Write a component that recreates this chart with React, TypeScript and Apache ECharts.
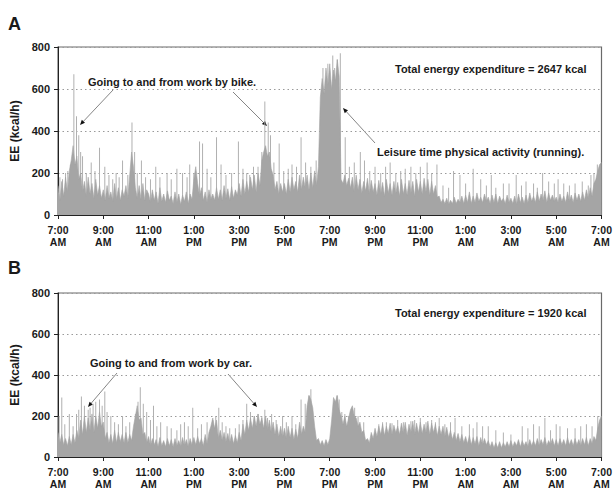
import React, { useEffect, useRef } from "react";
import * as echarts from "echarts";

// Tick labels of the time axis (minutes from 7:00 AM, every 2 h)
const xTickLabels = [
  "7:00\nAM", "9:00\nAM", "11:00\nAM", "1:00\nPM", "3:00\nPM", "5:00\nPM",
  "7:00\nPM", "9:00\nPM", "11:00\nPM", "1:00\nAM", "3:00\nAM", "5:00\nAM", "7:00\nAM",
];
const stepMinutes = 5;

// Panel A: base EE (kcal/h), one row per hour starting 7:00 AM, 5-min samples
const baseA: number[][] = [
  [140, 70, 160, 90, 180, 110, 210, 260, 330, 240, 280, 170],
  [200, 110, 160, 90, 180, 100, 150, 80, 170, 95, 140, 80],
  [120, 70, 140, 80, 110, 65, 150, 75, 130, 70, 120, 90],
  [140, 80, 190, 300, 230, 130, 80, 140, 75, 150, 70, 120],
  [100, 60, 120, 70, 110, 55, 130, 65, 100, 60, 115, 70],
  [90, 55, 110, 60, 100, 50, 95, 65, 110, 55, 100, 75],
  [170, 230, 150, 90, 130, 70, 110, 60, 120, 75, 100, 70],
  [130, 75, 120, 70, 140, 80, 125, 70, 135, 80, 120, 95],
  [150, 90, 170, 100, 160, 110, 180, 120, 190, 110, 200, 140],
  [260, 300, 330, 280, 300, 220, 190, 120, 160, 100, 150, 110],
  [150, 100, 170, 110, 180, 120, 160, 110, 190, 120, 180, 130],
  [190, 120, 200, 130, 210, 140, 230, 560, 650, 580, 700, 620],
  [720, 600, 690, 640, 740, 660, 170, 150, 190, 140, 175, 130],
  [180, 110, 190, 120, 170, 105, 160, 115, 175, 100, 165, 110],
  [150, 95, 165, 100, 155, 90, 170, 105, 150, 95, 160, 100],
  [155, 90, 170, 100, 150, 95, 165, 105, 160, 90, 170, 110],
  [160, 100, 175, 110, 170, 95, 160, 100, 140, 85, 90, 60],
  [75, 55, 80, 50, 70, 55, 85, 55, 75, 60, 90, 55],
  [95, 60, 110, 55, 90, 60, 105, 65, 85, 60, 100, 65],
  [85, 55, 95, 60, 100, 55, 90, 65, 80, 55, 95, 60],
  [80, 55, 90, 50, 100, 60, 85, 55, 95, 60, 105, 65],
  [90, 60, 110, 65, 100, 70, 115, 60, 105, 70, 95, 65],
  [85, 60, 100, 65, 90, 60, 110, 65, 95, 60, 105, 70],
  [100, 65, 110, 70, 120, 80, 130, 90, 150, 170, 210, 240],
  [250],
];

// Panel A: short peaks [minute from 7:00 AM, EE]
const spikesA: number[][] = [
  [20, 200], [26, 210], [42, 670], [49, 470], [55, 380], [65, 280], [88, 250], [110, 320],
  [124, 230], [154, 200], [171, 260], [196, 440], [203, 300], [221, 260], [259, 230],
  [289, 200], [315, 220], [330, 200], [349, 240], [375, 350], [383, 340], [395, 220],
  [420, 370], [432, 240], [478, 350], [500, 200], [518, 230], [548, 540], [557, 440],
  [563, 380], [586, 340], [620, 240], [644, 370], [670, 230], [702, 700], [715, 720],
  [728, 760], [733, 700], [740, 740], [748, 770], [761, 370], [801, 300], [812, 260],
  [840, 230], [880, 250], [920, 220], [960, 230], [978, 250], [1004, 240], [1048, 210],
  [1065, 190], [1100, 220], [1120, 170], [1148, 190], [1180, 150], [1214, 190],
  [1240, 160], [1284, 200], [1300, 160], [1340, 150], [1389, 160], [1420, 200], [1429, 240],
  [5, 180], [12, 170], [33, 240], [60, 300], [75, 200], [98, 210], [135, 190], [145, 170],
  [162, 180], [185, 190], [210, 200], [232, 180], [245, 170], [270, 180], [300, 170],
  [342, 180], [360, 200], [405, 180], [445, 190], [460, 200], [490, 220], [508, 190],
  [530, 230], [540, 300], [572, 250], [598, 210], [610, 220], [632, 230], [656, 250],
  [684, 260], [772, 230], [785, 250], [826, 210], [855, 200], [868, 230], [895, 200],
  [908, 210], [935, 230], [948, 200], [990, 200], [1020, 140], [1035, 130], [1080, 150],
  [1135, 140], [1160, 130], [1195, 150], [1228, 140], [1260, 150], [1270, 130], [1315, 150],
  [1325, 170], [1355, 140], [1370, 150], [1405, 140], [1412, 190],
];

// Panel B: base EE (kcal/h), one row per hour starting 7:00 AM, 5-min samples
const baseB: number[][] = [
  [120, 70, 110, 60, 90, 55, 100, 60, 110, 70, 130, 90],
  [180, 110, 200, 120, 190, 130, 210, 120, 200, 140, 220, 150],
  [170, 90, 120, 70, 110, 65, 130, 70, 120, 75, 110, 70],
  [120, 70, 110, 80, 150, 200, 250, 180, 190, 110, 120, 70],
  [100, 55, 90, 60, 85, 50, 95, 55, 80, 50, 90, 55],
  [85, 50, 90, 55, 80, 50, 95, 55, 85, 50, 90, 60],
  [95, 60, 100, 65, 90, 55, 110, 65, 120, 150, 190, 140],
  [180, 90, 130, 80, 120, 75, 115, 70, 110, 65, 105, 70],
  [120, 80, 160, 110, 180, 130, 190, 140, 200, 150, 210, 160],
  [190, 140, 200, 130, 180, 120, 170, 110, 160, 100, 150, 95],
  [140, 90, 150, 95, 140, 85, 135, 90, 170, 110, 150, 120],
  [250, 300, 280, 240, 150, 80, 90, 60, 80, 55, 85, 60],
  [90, 180, 290, 270, 300, 230, 200, 160, 200, 150, 190, 230],
  [250, 200, 190, 150, 170, 120, 130, 80, 90, 70, 120, 90],
  [140, 100, 150, 110, 160, 105, 150, 115, 165, 110, 155, 120],
  [150, 110, 165, 115, 170, 105, 160, 120, 175, 110, 165, 115],
  [170, 115, 160, 120, 175, 110, 165, 120, 160, 105, 150, 110],
  [150, 100, 145, 95, 130, 85, 120, 80, 115, 75, 110, 70],
  [100, 65, 105, 60, 95, 65, 100, 55, 95, 60, 90, 60],
  [80, 50, 75, 45, 70, 45, 75, 45, 70, 50, 75, 50],
  [80, 50, 75, 55, 85, 50, 80, 55, 75, 50, 85, 55],
  [80, 55, 90, 55, 85, 60, 95, 55, 80, 60, 90, 55],
  [85, 55, 90, 60, 85, 55, 95, 60, 85, 55, 90, 60],
  [85, 55, 90, 60, 95, 55, 90, 65, 100, 80, 140, 180],
  [200],
];

// Panel B: short peaks [minute from 7:00 AM, EE]
const spikesB: number[][] = [
  [10, 290], [30, 210], [49, 210], [62, 295], [70, 250], [80, 230], [93, 260], [110, 280],
  [124, 320], [140, 200], [150, 170], [171, 200], [190, 170], [218, 340], [226, 260],
  [235, 220], [253, 250], [272, 170], [289, 150], [325, 160], [335, 170], [357, 240],
  [380, 160], [410, 180], [426, 240], [445, 150], [480, 160], [500, 260], [520, 200],
  [548, 230], [566, 210], [595, 200], [620, 200], [644, 280], [670, 330], [739, 300],
  [760, 210], [786, 240], [870, 170], [900, 180], [935, 175], [960, 190], [990, 180],
  [1010, 190], [1052, 190], [1090, 160], [1110, 170], [1140, 150], [1230, 150],
  [1260, 160], [1290, 190], [1330, 150], [1370, 140], [1400, 160], [1430, 200],
  [3, 200], [18, 160], [40, 150], [55, 230], [85, 240], [100, 270], [117, 250], [130, 220],
  [160, 160], [180, 150], [205, 210], [212, 270], [245, 180], [262, 150], [300, 140],
  [315, 130], [345, 150], [370, 140], [395, 170], [418, 200], [435, 170], [455, 140],
  [470, 140], [490, 180], [510, 220], [530, 210], [540, 200], [555, 190], [578, 180],
  [605, 170], [630, 160], [655, 260], [665, 300], [733, 270], [745, 280], [752, 220],
  [770, 200], [795, 200], [810, 170], [850, 160], [860, 170], [885, 165], [915, 170],
  [945, 180], [975, 170], [1000, 170], [1025, 160], [1040, 170], [1070, 150], [1100, 140],
  [1125, 150], [1160, 130], [1180, 120], [1200, 110], [1245, 140], [1275, 150], [1305, 130],
  [1320, 160], [1350, 140], [1385, 150], [1415, 150],
];

const FONT = "'Liberation Sans', Arial, sans-serif";
const AREA = "#a5a5a5";
const SPIKE = "#b0b0b0";

function toPairs(rows: number[][]): number[][] {
  const flat = rows.flat();
  return flat.map((v, i) => [i * stepMinutes, v]);
}

function arrow(x1: number, y1: number, x2: number, y2: number): any[] {
  const ang = Math.atan2(y2 - y1, x2 - x1);
  const L = 5, W = 2.2;
  const bx = x2 - L * Math.cos(ang), by = y2 - L * Math.sin(ang);
  const px = -Math.sin(ang) * W, py = Math.cos(ang) * W;
  return [
    { type: "line", shape: { x1, y1, x2: bx, y2: by }, style: { stroke: "#777", lineWidth: 0.9 }, silent: true },
    {
      type: "polygon",
      shape: { points: [[x2, y2], [bx + px, by + py], [bx - px, by - py]] },
      style: { fill: "#111" },
      silent: true,
    },
  ];
}

function label(text: string, x: number, y: number, size = 11): any {
  return {
    type: "text",
    x,
    y,
    style: {
      text,
      fill: "#1a1a1a",
      font: `bold ${size}px ${FONT}`,
      textVerticalAlign: "middle",
      verticalAlign: "middle",
    },
    silent: true,
  };
}

export default function App() {
  const ref = useRef<HTMLDivElement>(null);

  useEffect(() => {
    if (!ref.current) return;
    const chart = echarts.init(ref.current, undefined, { renderer: "svg" });

    const grids = [
      { left: 58, top: 47, width: 548, height: 168 },
      { left: 58, top: 293, width: 548, height: 164 },
    ];

    const xAxis = grids.map((_, i) => ({
      type: "value",
      gridIndex: i,
      min: 0,
      max: 1440,
      interval: 120,
      axisLine: { show: true, onZero: false, lineStyle: { color: "#222", width: 1 } },
      axisTick: { show: true, length: 4, lineStyle: { color: "#222" } },
      axisLabel: {
        formatter: (v: number) => xTickLabels[Math.round(v / 120)] ?? "",
        fontFamily: FONT,
        fontWeight: "bold",
        fontSize: 10.5,
        lineHeight: 12,
        color: "#1a1a1a",
        margin: 9,
      },
      splitLine: { show: false },
    }));

    const yAxis = grids.map((_, i) => ({
      type: "value",
      gridIndex: i,
      min: 0,
      max: 800,
      interval: 200,
      name: "EE (kcal/h)",
      nameLocation: "middle",
      nameGap: 35,
      nameTextStyle: { fontFamily: FONT, fontWeight: "bold", fontSize: 12, color: "#1a1a1a" },
      axisLine: { show: true, lineStyle: { color: "#222", width: 1 } },
      axisTick: { show: true, length: 4, lineStyle: { color: "#222" } },
      axisLabel: { fontFamily: FONT, fontWeight: "bold", fontSize: 11, color: "#1a1a1a", margin: 8 },
      splitLine: { show: true, lineStyle: { color: "#9a9a9a", type: [1.5, 3], width: 1 } },
    }));

    const areaSeries = (data: number[][], i: number) => ({
      type: "line",
      xAxisIndex: i,
      yAxisIndex: i,
      data,
      symbol: "none",
      smooth: false,
      lineStyle: { color: AREA, width: 0.6 },
      areaStyle: { color: AREA, opacity: 1 },
      z: 2,
    });
    const spikeSeries = (data: number[][], i: number) => ({
      type: "bar",
      xAxisIndex: i,
      yAxisIndex: i,
      data,
      barWidth: 1,
      itemStyle: { color: SPIKE },
      z: 1,
    });

    const graphic: any[] = [
      label("A", 8, 24, 18),
      label("B", 8, 268, 18),
      label("Going to and from work by bike.", 88, 82),
      label("Total energy expenditure = 2647 kcal", 395, 69),
      label("Leisure time physical activity (running).", 377, 152),
      label("Going to and from work by car.", 90, 363),
      label("Total energy expenditure = 1920 kcal", 395, 313),
      ...arrow(113, 90, 80, 125),
      ...arrow(233, 92, 267, 126),
      ...arrow(375, 143, 343, 108),
      ...arrow(117, 373, 88, 407),
      ...arrow(228, 374, 257, 407),
    ];

    chart.setOption({
      animation: false,
      backgroundColor: "#ffffff",
      grid: grids.map((g) => ({
        ...g,
        show: true,
        borderColor: "#6a6a6a",
        borderWidth: 1.2,
        backgroundColor: "transparent",
        containLabel: false,
      })),
      xAxis,
      yAxis,
      series: [
        spikeSeries(spikesA, 0),
        areaSeries(toPairs(baseA), 0),
        spikeSeries(spikesB, 1),
        areaSeries(toPairs(baseB), 1),
      ],
      graphic,
    });

    return () => chart.dispose();
  }, []);

  return (
    <div
      ref={ref}
      style={{ position: "fixed", left: 0, top: 0, width: 615, height: 495, background: "#fff" }}
    />
  );
}
